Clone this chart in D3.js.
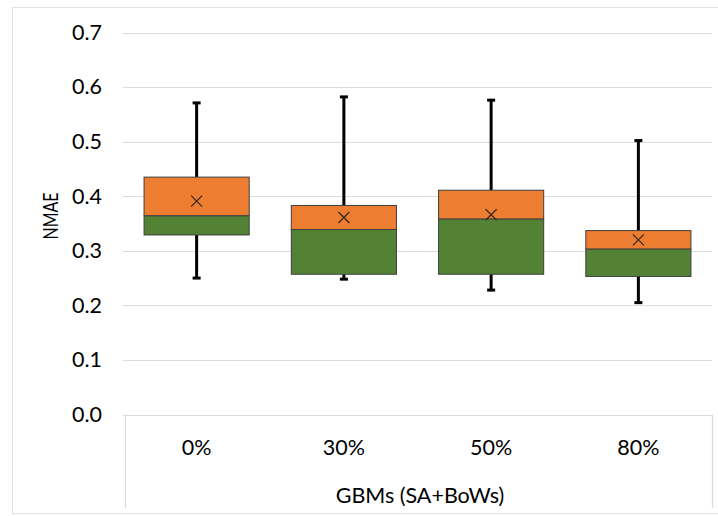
<!doctype html>
<html>
<head>
<meta charset="utf-8">
<title>NMAE box plot</title>
<style>
  body { margin: 0; background: #fff; }
  text { font-family: Lato, "Open Sans", sans-serif; fill: #000; }
</style>
</head>
<body>
<script src="https://d3js.org/d3.v7.min.js"></script>
<script>
// data
var categories = ["0%", "30%", "50%", "80%"];
var minVals    = [0.250, 0.248, 0.228, 0.205];
var q1Vals     = [0.329, 0.257, 0.257, 0.253];
var medianVals = [0.364, 0.339, 0.358, 0.303];
var q3Vals     = [0.435, 0.383, 0.411, 0.337];
var maxVals    = [0.571, 0.582, 0.576, 0.502];
var meanVals   = [0.391, 0.361, 0.366, 0.320];
var yTicks     = [0, 0.1, 0.2, 0.3, 0.4, 0.5, 0.6, 0.7];

var width = 718, height = 516;
var margin = { top: 32.5, left: 123, right: 6, bottom: 101.5 };
var fontSize = 21.5;

var svg = d3.select("body").append("svg")
    .attr("width", width)
    .attr("height", height);

// outer chart frame
svg.append("rect")
    .attr("x", 12.5).attr("y", 7.5)
    .attr("width", 720).attr("height", 506)
    .attr("fill", "none")
    .attr("stroke", "#e3e3e3");

var x = d3.scaleBand()
    .domain(categories)
    .range([margin.left, width - margin.right])
    .paddingInner(0.286)
    .paddingOuter(0.143);

var y = d3.scaleLinear()
    .domain([0, 0.7])
    .range([height - margin.bottom, margin.top]);

// grid lines
svg.append("g")
    .selectAll("line")
    .data(yTicks)
    .join("line")
    .attr("x1", margin.left)
    .attr("x2", width - margin.right)
    .attr("y1", function(d) { return Math.round(y(d)) + 0.5; })
    .attr("y2", function(d) { return Math.round(y(d)) + 0.5; })
    .attr("stroke", "#dcdcdc")
    .attr("stroke-width", 1.2);

// y axis labels
var yAxis = svg.append("g")
    .attr("transform", "translate(" + (margin.left - 18) + ",0)")
    .call(d3.axisLeft(y).tickValues(yTicks).tickFormat(d3.format(".1f")).tickSize(0));
yAxis.select(".domain").remove();
yAxis.selectAll("text")
    .attr("font-size", fontSize)
    .attr("font-family", "Lato, sans-serif")
    .attr("fill", "#000");

// category axis frame (vertical separators below the plot)
var bottomY = y(0);
svg.append("g")
    .selectAll("line")
    .data([margin.left + 2, width - margin.right])
    .join("line")
    .attr("x1", function(d) { return d + 0.5; })
    .attr("x2", function(d) { return d + 0.5; })
    .attr("y1", bottomY)
    .attr("y2", 508)
    .attr("stroke", "#dcdcdc")
    .attr("stroke-width", 1.2);

// category labels
svg.append("g")
    .selectAll("text")
    .data(categories)
    .join("text")
    .attr("x", function(d) { return x(d) + x.bandwidth() / 2; })
    .attr("y", 455)
    .attr("text-anchor", "middle")
    .attr("font-size", fontSize)
    .text(function(d) { return d; });

// axis titles
svg.append("text")
    .attr("x", 420)
    .attr("y", 503)
    .attr("text-anchor", "middle")
    .attr("font-size", fontSize)
    .text("GBMs (SA+BoWs)");

svg.append("text")
    .attr("transform", "translate(58,216) rotate(-90)")
    .attr("text-anchor", "middle")
    .attr("font-size", fontSize)
    .attr("textLength", 47)
    .attr("lengthAdjust", "spacingAndGlyphs")
    .text("NMAE");

var boxes = svg.append("g")
    .selectAll("g")
    .data(categories)
    .join("g");

var capW = 8;

// whiskers
boxes.append("line")
    .attr("x1", function(d) { return x(d) + x.bandwidth() / 2; })
    .attr("x2", function(d) { return x(d) + x.bandwidth() / 2; })
    .attr("y1", function(d, i) { return y(q3Vals[i]); })
    .attr("y2", function(d, i) { return y(maxVals[i]); })
    .attr("stroke", "#000").attr("stroke-width", 3);
boxes.append("line")
    .attr("x1", function(d) { return x(d) + x.bandwidth() / 2; })
    .attr("x2", function(d) { return x(d) + x.bandwidth() / 2; })
    .attr("y1", function(d, i) { return y(q1Vals[i]); })
    .attr("y2", function(d, i) { return y(minVals[i]); })
    .attr("stroke", "#000").attr("stroke-width", 3);

// caps
[maxVals, minVals].forEach(function(arr) {
    boxes.append("line")
        .attr("x1", function(d) { return x(d) + x.bandwidth() / 2 - capW / 2; })
        .attr("x2", function(d) { return x(d) + x.bandwidth() / 2 + capW / 2; })
        .attr("y1", function(d, i) { return y(arr[i]); })
        .attr("y2", function(d, i) { return y(arr[i]); })
        .attr("stroke", "#000").attr("stroke-width", 3);
});

// upper box (median to q3)
boxes.append("rect")
    .attr("x", function(d) { return x(d); })
    .attr("width", x.bandwidth())
    .attr("y", function(d, i) { return y(q3Vals[i]); })
    .attr("height", function(d, i) { return y(medianVals[i]) - y(q3Vals[i]); })
    .attr("fill", "#ed7d31")
    .attr("stroke", "#3f3f3f").attr("stroke-width", 1);

// lower box (q1 to median)
boxes.append("rect")
    .attr("x", function(d) { return x(d); })
    .attr("width", x.bandwidth())
    .attr("y", function(d, i) { return y(medianVals[i]); })
    .attr("height", function(d, i) { return y(q1Vals[i]) - y(medianVals[i]); })
    .attr("fill", "#548235")
    .attr("stroke", "#3f3f3f").attr("stroke-width", 1);

// mean markers
var m = 5.5;
boxes.append("path")
    .attr("d", function(d, i) {
        var cx = x(d) + x.bandwidth() / 2, cy = y(meanVals[i]);
        return "M" + (cx - m) + "," + (cy - m) + "L" + (cx + m) + "," + (cy + m) +
               "M" + (cx - m) + "," + (cy + m) + "L" + (cx + m) + "," + (cy - m);
    })
    .attr("stroke", "#3a2a20")
    .attr("stroke-width", 1.3)
    .attr("fill", "none");
</script>
</body>
</html>
